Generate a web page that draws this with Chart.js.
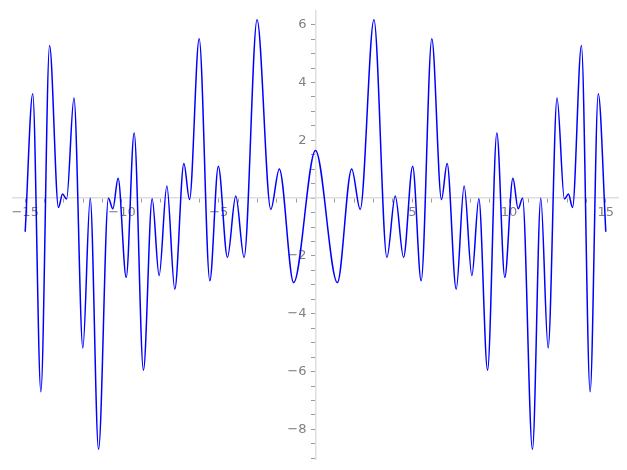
<!DOCTYPE html>
<html>
<head>
<meta charset="utf-8">
<script src="https://cdn.jsdelivr.net/npm/chart.js@4"></script>
<style>
  html, body { margin: 0; padding: 0; background: #fff; }
  #wrap { width: 627px; height: 470px; }
</style>
</head>
<body>
<div id="wrap"><canvas id="plot" width="627" height="470"></canvas></div>
<script>
// curve: local peaks / troughs, left to right
const xs = [-15, -14.61, -14.19, -13.74, -13.28, -13.07, -12.86, -12.48, -12.02, -11.64,
  -11.21, -10.70, -10.47, -10.20, -9.78, -9.37, -8.89, -8.44, -8.08, -7.68,
  -7.27, -6.80, -6.51, -6.01, -5.46, -5.02, -4.55, -4.12, -3.69, -3.02,
  -2.31, -1.87, -1.13, 0, 1.13, 1.87, 2.31, 3.02, 3.69, 4.12,
  4.55, 5.02, 5.46, 6.01, 6.51, 6.80, 7.27, 7.68, 8.08, 8.44,
  8.89, 9.37, 9.78, 10.20, 10.47, 10.70, 11.21, 11.64, 12.02, 12.48,
  12.86, 13.07, 13.28, 13.74, 14.19, 14.61, 15];
const ys = [-1.16, 3.61, -6.7, 5.28, -0.32, 0.14, -0.03, 3.46, -5.18, 0.0,
  -8.69, 0.0, -0.37, 0.69, -2.74, 2.25, -5.95, -0.02, -2.68, 0.42,
  -3.15, 1.20, -0.05, 5.51, -2.86, 1.10, -2.05, 0.07, -2.05, 6.17,
  -0.39, 1.01, -2.92, 1.65, -2.92, 1.01, -0.39, 6.17, -2.05, 0.07,
  -2.05, 1.10, -2.86, 5.51, -0.05, 1.20, -3.15, 0.42, -2.68, -0.02,
  -5.95, 2.25, -2.74, 0.69, -0.37, 0.0, -8.69, 0.0, -5.18, 3.46,
  -0.03, 0.14, -0.32, 5.28, -6.7, 3.61, -1.16];

// tick positions
const xTicks = [-15, -14, -13, -12, -11, -10, -9, -8, -7, -6, -5, -4, -3, -2, -1, 0,
  1, 2, 3, 4, 5, 6, 7, 8, 9, 10, 11, 12, 13, 14, 15];
const xLabels = [-15, -10, -5, 5, 10, 15];
const yTicks = [-9, -8.5, -8, -7.5, -7, -6.5, -6, -5.5, -5, -4.5, -4, -3.5, -3, -2.5, -2, -1.5, -1, -0.5, 0,
  0.5, 1, 1.5, 2, 2.5, 3, 3.5, 4, 4.5, 5, 5.5, 6];
const yLabels = [-8, -6, -4, -2, 2, 4, 6];

const fmt = v => (v < 0 ? '\u2212' + Math.abs(v) : String(v));
const axisGrey = '#dedede';
const tickGrey = '#9a9a9a';
const labelGrey = '#808080';

new Chart(document.getElementById('plot'), {
  type: 'line',
  data: {
    datasets: [{
      data: xs.map((x, i) => ({ x: x, y: ys[i] })),
      borderColor: '#0000ff',
      borderWidth: 1.5,
      pointRadius: 0,
      fill: false,
      cubicInterpolationMode: 'monotone'
    }]
  },
  options: {
    responsive: false,
    animation: false,
    devicePixelRatio: 1,
    layout: { padding: { left: 13, right: 9, top: 10, bottom: 10 } },
    plugins: { legend: { display: false }, tooltip: { enabled: false } },
    scales: {
      x: {
        type: 'linear',
        min: -15.63,
        max: 15.63,
        position: { y: 0 },
        afterBuildTicks: s => { s.ticks = xTicks.map(v => ({ value: v })); },
        border: { color: axisGrey, width: 1.5 },
        grid: { drawOnChartArea: false, drawTicks: true, tickLength: 4, tickColor: tickGrey },
        ticks: {
          autoSkip: false,
          maxRotation: 0,
          padding: 3,
          color: labelGrey,
          font: { family: 'DejaVu Sans', size: 13 },
          callback: v => (xLabels.includes(v) ? fmt(v) : '')
        }
      },
      y: {
        type: 'linear',
        min: -9.03,
        max: 6.48,
        position: { x: 0 },
        afterBuildTicks: s => { s.ticks = yTicks.map(v => ({ value: v })); },
        border: { color: axisGrey, width: 1.5 },
        grid: { drawOnChartArea: false, drawTicks: true, tickLength: 4, tickColor: tickGrey },
        ticks: {
          autoSkip: false,
          color: labelGrey,
          font: { family: 'DejaVu Sans', size: 13 },
          // labels sit right on the axis when it is placed by value, so pad them with spaces
          callback: v => (yLabels.includes(v) ? fmt(v) + '\u2002\u2009' : '')
        }
      }
    }
  }
});
</script>
</body>
</html>
